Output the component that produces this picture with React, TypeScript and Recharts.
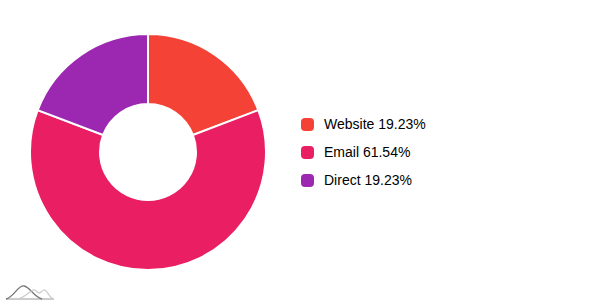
import React from 'react';
import { PieChart, Pie, Cell, Legend } from 'recharts';

const categories = ['Website', 'Email', 'Direct'];
const values = [5, 16, 5];
const percents = ['19.23%', '61.54%', '19.23%'];
const COLORS = ['#F44336', '#E91E63', '#9C27B0'];

const chartData = categories.map((name, i) => ({ name, value: values[i], pct: percents[i] }));

// legend on the right, square markers with rounded corners
const renderLegend = () => (
  <div style={{ fontFamily: '"Liberation Sans", Arial, sans-serif', fontSize: 14, color: '#000' }}>
    {chartData.map((d, i) => (
      <div key={d.name} style={{ display: 'flex', alignItems: 'center', height: 28 }}>
        <span
          style={{
            width: 13,
            height: 13,
            borderRadius: 4,
            background: COLORS[i],
            display: 'inline-block',
            marginRight: 10,
          }}
        />
        <span>{d.name} {d.pct}</span>
      </div>
    ))}
  </div>
);

export default function App() {
  return (
    <div style={{ position: 'absolute', left: 0, top: 0, width: 596, height: 305, background: '#fff' }}>
      <PieChart width={596} height={305} margin={{ top: 0, right: 0, bottom: 0, left: 0 }}>
        <Pie
          data={chartData}
          dataKey="value"
          nameKey="name"
          cx={148}
          cy={152}
          innerRadius={48}
          outerRadius={118}
          startAngle={90}
          endAngle={-270}
          stroke="#fff"
          strokeWidth={2}
          isAnimationActive={false}
        >
          {chartData.map((_, i) => (
            <Cell key={`cell-${i}`} fill={COLORS[i]} />
          ))}
        </Pie>
        <Legend
          content={renderLegend}
          layout="vertical"
          wrapperStyle={{ position: 'absolute', left: 301, top: 110, width: 200 }}
        />
      </PieChart>
      {/* small logo bottom-left */}
      <svg width={60} height={20} style={{ position: 'absolute', left: 4, top: 283 }}>
        <path d="M2 16 L50 16" stroke="#999" strokeWidth={1.2} fill="none" />
        <path d="M2 16 C10 14 14 2 20 3 C26 4 30 14 38 16" stroke="#777" strokeWidth={1.3} fill="none" />
        <path d="M14 16 C22 14 26 8 29 7 C32 6 33 10 35 10 C37 10 39 6 41 7 C44 9 46 16 50 16" stroke="#ccc" strokeWidth={1.3} fill="none" />
      </svg>
    </div>
  );
}
